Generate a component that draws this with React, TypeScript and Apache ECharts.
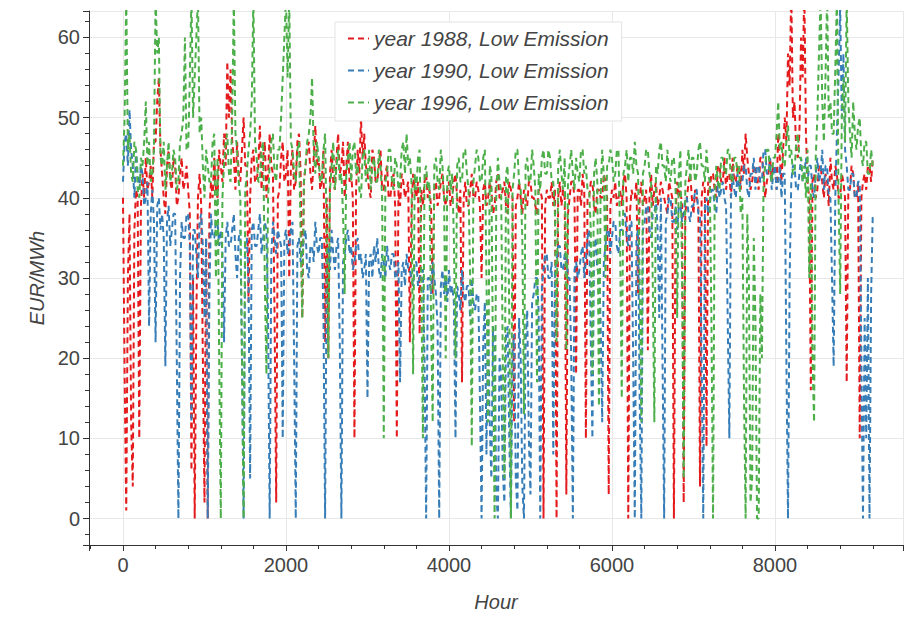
import React, { useEffect, useRef } from "react";
import * as echarts from "echarts";

// Hourly prices, one value every STEP_HOURS hours (EUR/MWh)
const STEP_HOURS = 20;

const year1988 = [
  40, 18, 1, 30, 38, 12, 4, 36, 41, 40, 10, 39, 43, 40, 45, 41, 42, 44, 40, 47,
  47, 52, 55, 46, 43, 40, 38, 44, 46, 42, 41, 45, 44, 39, 40, 43, 45, 41, 42, 44,
  41, 38, 6, 30, 0, 25, 40, 43, 39, 20, 2, 35, 0, 38, 42, 40, 45, 41, 40, 46,
  44, 42, 48, 44, 57, 50, 56, 47, 45, 41, 47, 43, 42, 46, 50, 44, 44, 27, 40, 45,
  46, 42, 42, 44, 49, 41, 45, 47, 40, 43, 48, 44, 43, 25, 2, 40, 41, 45, 47, 42,
  43, 46, 30, 44, 46, 41, 42, 47, 48, 43, 25, 42, 44, 46, 47, 43, 41, 45, 49, 44,
  45, 41, 42, 46, 22, 40, 20, 43, 46, 42, 41, 45, 48, 43, 44, 47, 40, 44, 47, 42,
  43, 40, 10, 41, 46, 43, 50, 45, 48, 44, 43, 41, 40, 46, 45, 42, 42, 44, 46, 41,
  41, 43, 44, 40, 40, 42, 43, 39, 10, 41, 39, 43, 42, 40, 41, 42, 22, 38, 43, 41,
  40, 42, 23, 41, 39, 42, 43, 40, 41, 39, 28, 41, 42, 39, 40, 42, 43, 40, 39, 41,
  42, 39, 40, 42, 43, 40, 38, 41, 17, 40, 42, 39, 39, 41, 43, 40, 40, 42, 41, 39,
  30, 41, 42, 39, 40, 42, 41, 38, 39, 42, 43, 40, 40, 41, 42, 39, 38, 42, 41, 40,
  12, 39, 40, 42, 40, 38, 41, 40, 39, 42, 42, 40, 40, 39, 38, 41, 41, 40, 0, 39,
  41, 40, 40, 42, 39, 41, 0, 40, 42, 39, 41, 40, 3, 38, 40, 42, 42, 40, 18, 41,
  41, 39, 43, 41, 10, 40, 40, 42, 42, 39, 38, 41, 41, 40, 40, 43, 42, 40, 3, 39,
  41, 40, 42, 39, 40, 41, 39, 42, 43, 40, 0, 38, 41, 40, 40, 42, 28, 40, 42, 39,
  40, 41, 21, 40, 43, 39, 41, 42, 39, 40, 42, 41, 40, 39, 38, 42, 41, 40, 0, 38,
  42, 40, 41, 39, 2, 38, 40, 42, 43, 40, 38, 41, 40, 39, 4, 40, 42, 41, 9, 42,
  41, 43, 43, 41, 40, 44, 44, 42, 42, 45, 41, 43, 43, 40, 45, 42, 42, 44, 44, 41,
  46, 43, 48, 45, 43, 41, 42, 44, 44, 42, 41, 45, 45, 43, 40, 42, 43, 45, 42, 44,
  44, 41, 48, 45, 42, 46, 50, 47, 58, 54, 66, 50, 52, 46, 45, 48, 60, 55, 66, 48,
  42, 40, 16, 42, 43, 40, 41, 44, 44, 42, 40, 43, 42, 39, 45, 42, 41, 44, 43, 40,
  40, 43, 42, 40, 17, 41, 41, 44, 43, 40, 40, 42, 10, 40, 42, 43, 41, 44, 44, 42,
  45,
];

const year1990 = [
  42, 47, 48, 44, 51, 46, 44, 40, 46, 43, 41, 44, 43, 39, 40, 42, 24, 38, 41, 37,
  22, 39, 40, 36, 38, 35, 19, 37, 39, 34, 36, 38, 38, 20, 0, 30, 37, 35, 35, 38,
  38, 34, 12, 36, 36, 33, 30, 37, 38, 34, 25, 35, 0, 28, 38, 35, 35, 37, 37, 34,
  36, 33, 22, 35, 37, 34, 34, 36, 38, 33, 30, 35, 36, 20, 0, 34, 35, 30, 5, 36,
  37, 34, 34, 36, 38, 33, 35, 37, 36, 25, 0, 33, 37, 35, 33, 36, 35, 34, 10, 35,
  36, 33, 34, 36, 37, 20, 0, 34, 35, 32, 33, 35, 36, 31, 30, 34, 34, 32, 37, 34,
  33, 35, 35, 25, 0, 33, 34, 31, 36, 33, 31, 34, 35, 22, 0, 32, 33, 35, 36, 33,
  34, 31, 32, 34, 35, 32, 33, 30, 31, 33, 15, 32, 33, 30, 34, 32, 35, 31, 30, 33,
  32, 30, 34, 32, 31, 33, 33, 30, 30, 32, 17, 31, 32, 29, 33, 31, 31, 30, 29, 32,
  32, 29, 30, 31, 31, 20, 0, 30, 30, 28, 32, 30, 28, 24, 0, 29, 31, 28, 30, 27,
  31, 28, 29, 27, 10, 29, 28, 26, 31, 28, 27, 29, 29, 25, 30, 27, 26, 28, 28, 15,
  0, 22, 27, 8, 25, 12, 5, 24, 22, 3, 0, 20, 18, 6, 2, 23, 24, 10, 0, 21,
  23, 5, 1, 25, 20, 4, 0, 22, 26, 10, 3, 27, 28, 30, 30, 26, 0, 29, 31, 33,
  33, 30, 30, 32, 8, 31, 32, 34, 34, 31, 31, 33, 33, 30, 30, 20, 0, 31, 32, 30,
  31, 33, 34, 30, 32, 35, 36, 22, 10, 33, 35, 31, 31, 25, 12, 32, 34, 36, 36, 33,
  35, 37, 37, 34, 33, 36, 36, 38, 38, 35, 34, 37, 37, 20, 0, 35, 36, 15, 0, 36,
  37, 39, 39, 36, 35, 38, 38, 40, 36, 25, 40, 20, 0, 37, 38, 40, 40, 37, 37, 39,
  36, 39, 39, 37, 38, 40, 40, 38, 37, 39, 39, 41, 41, 38, 38, 20, 0, 39, 40, 38,
  39, 41, 41, 39, 38, 42, 40, 41, 42, 40, 39, 25, 10, 40, 43, 41, 40, 43, 41, 42,
  42, 44, 44, 41, 40, 43, 43, 45, 41, 44, 44, 42, 42, 46, 46, 43, 43, 45, 41, 43,
  44, 41, 42, 44, 40, 43, 43, 20, 0, 30, 42, 44, 44, 41, 41, 43, 45, 42, 43, 45,
  42, 44, 44, 41, 40, 43, 45, 42, 43, 46, 41, 44, 44, 40, 40, 30, 19, 40, 48, 55,
  64, 50, 58, 46, 44, 41, 41, 43, 43, 40, 40, 42, 42, 20, 0, 25, 10, 30, 0, 28,
  38,
];

const year1996 = [
  44, 50, 65, 46, 48, 43, 42, 47, 46, 41, 40, 45, 44, 47, 52, 44, 47, 42, 43, 46,
  65, 58, 60, 45, 44, 47, 41, 44, 47, 42, 43, 46, 45, 41, 42, 47, 48, 50, 60, 46,
  46, 55, 65, 50, 55, 60, 65, 48, 50, 44, 40, 46, 44, 42, 42, 47, 48, 30, 45, 20,
  0, 40, 44, 47, 48, 43, 42, 50, 65, 48, 46, 42, 40, 20, 0, 41, 43, 46, 48, 52,
  65, 47, 45, 42, 42, 46, 47, 30, 18, 40, 44, 47, 48, 43, 42, 46, 46, 50, 55, 60,
  65, 55, 65, 47, 46, 43, 42, 46, 47, 35, 25, 42, 44, 47, 48, 50, 55, 46, 43, 47,
  45, 42, 42, 46, 48, 35, 20, 41, 44, 47, 41, 44, 46, 42, 43, 38, 28, 43, 45, 47,
  42, 46, 47, 43, 44, 41, 40, 45, 46, 42, 43, 46, 41, 44, 45, 42, 42, 46, 44, 40,
  10, 42, 43, 46, 46, 42, 41, 45, 44, 41, 42, 46, 47, 43, 48, 44, 45, 42, 18, 43,
  41, 45, 46, 30, 10, 43, 44, 41, 42, 25, 12, 44, 45, 42, 41, 46, 44, 40, 20, 43,
  44, 41, 43, 35, 20, 44, 45, 42, 42, 46, 46, 43, 41, 30, 9, 42, 44, 46, 45, 42,
  42, 45, 46, 30, 12, 44, 43, 20, 0, 40, 45, 42, 41, 20, 5, 43, 44, 25, 0, 41,
  43, 46, 46, 42, 41, 35, 13, 44, 45, 42, 42, 46, 44, 41, 17, 43, 41, 45, 46, 43,
  43, 46, 45, 42, 42, 38, 22, 44, 46, 43, 41, 45, 21, 42, 44, 46, 43, 41, 45, 43,
  42, 46, 46, 43, 44, 41, 41, 36, 18, 43, 45, 42, 14, 40, 46, 43, 30, 44, 44, 46,
  45, 42, 43, 46, 46, 34, 15, 43, 44, 46, 42, 45, 45, 43, 47, 44, 43, 30, 12, 43,
  44, 46, 46, 43, 42, 30, 12, 44, 43, 46, 47, 44, 44, 42, 46, 43, 42, 45, 45, 41,
  25, 43, 46, 30, 5, 42, 44, 46, 42, 45, 45, 42, 43, 46, 47, 44, 44, 42, 46, 43,
  42, 25, 0, 40, 44, 42, 41, 45, 45, 43, 43, 46, 46, 42, 42, 45, 45, 43, 44, 38,
  40, 15, 0, 38, 30, 2, 5, 35, 25, 0, 0, 28, 20, 42, 44, 46, 46, 43, 42, 45,
  45, 48, 52, 46, 47, 44, 44, 47, 49, 45, 46, 43, 43, 47, 48, 45, 45, 42, 44, 40,
  46, 30, 42, 20, 12, 45, 50, 58, 65, 52, 47, 55, 65, 50, 52, 48, 48, 56, 65, 40,
  28, 50, 55, 47, 65, 52, 48, 45, 52, 48, 46, 49, 50, 45, 44, 47, 47, 43, 43, 46,
  44,
];

const seriesNames = [
  "year 1988, Low Emission",
  "year 1990, Low Emission",
  "year 1996, Low Emission",
];
const seriesColors = ["#e41a1c", "#377eb8", "#4daf4a"];
const seriesValues = [year1988, year1990, year1996];

const xTitle = "Hour";
const yTitle = "EUR/MWh";

const FONT = "'Liberation Sans', Arial, Helvetica, sans-serif";

export default function App() {
  const ref = useRef<HTMLDivElement>(null);

  useEffect(() => {
    if (!ref.current) return;
    const chart = echarts.init(ref.current, null, { renderer: "svg" });

    const series = seriesValues.map((vals, k) => ({
      name: seriesNames[k],
      type: "line",
      data: vals.map((v, i) => [i * STEP_HOURS, v]),
      showSymbol: false,
      symbol: "none",
      clip: true,
      lineStyle: { color: seriesColors[k], width: 2, type: [6, 4] },
      itemStyle: { color: seriesColors[k] },
      z: 2 + k,
    }));

    const axisCommon = {
      type: "value",
      nameLocation: "middle",
      nameTextStyle: { fontSize: 20, fontStyle: "italic", color: "#444", fontFamily: FONT },
      axisLine: { show: true, onZero: false, lineStyle: { color: "#333", width: 1 } },
      axisTick: { show: true, inside: false, length: 6, lineStyle: { color: "#333", width: 1 } },
      minorTick: { show: true, splitNumber: 5, length: 4, lineStyle: { color: "#333", width: 1 } },
      splitLine: { show: true, lineStyle: { color: "#e8e8e8", width: 1 } },
    };

    chart.setOption({
      animation: false,
      backgroundColor: "#ffffff",
      grid: { left: 89, top: 11, right: 1, bottom: 67, containLabel: false },
      legend: {
        orient: "vertical",
        left: 335,
        top: 22,
        padding: [6, 13, 8, 12],
        backgroundColor: "#ffffff",
        borderColor: "#e3e3e3",
        borderWidth: 1,
        itemWidth: 21,
        itemHeight: 14,
        itemGap: 11,
        itemTextGap: 6,
        itemStyle: { opacity: 0, color: "transparent", borderWidth: 0 },
        lineStyle: { width: 2, type: [6, 4] },
        textStyle: { fontSize: 21, fontStyle: "italic", color: "#444", fontFamily: FONT, lineHeight: 20 },
        data: seriesNames,
      },
      xAxis: {
        ...axisCommon,
        min: -417,
        max: 9571,
        splitNumber: 5,
        name: xTitle,
        nameGap: 47,
        axisLabel: {
          fontSize: 20, color: "#444", margin: 10, fontFamily: FONT,
          showMinLabel: false, showMaxLabel: false,
          formatter: (v: number) => String(v),
        },
      },
      yAxis: {
        ...axisCommon,
        min: -3.3,
        max: 63.3,
        splitNumber: 7,
        name: yTitle,
        nameGap: 41,
        axisLabel: {
          fontSize: 20, color: "#444", margin: 9, fontFamily: FONT,
          showMinLabel: false, showMaxLabel: false,
          formatter: (v: number) => String(v),
        },
      },
      series,
    });

    return () => chart.dispose();
  }, []);

  return (
    <div
      ref={ref}
      style={{ position: "absolute", left: 0, top: 0, width: 904, height: 617 }}
    />
  );
}
